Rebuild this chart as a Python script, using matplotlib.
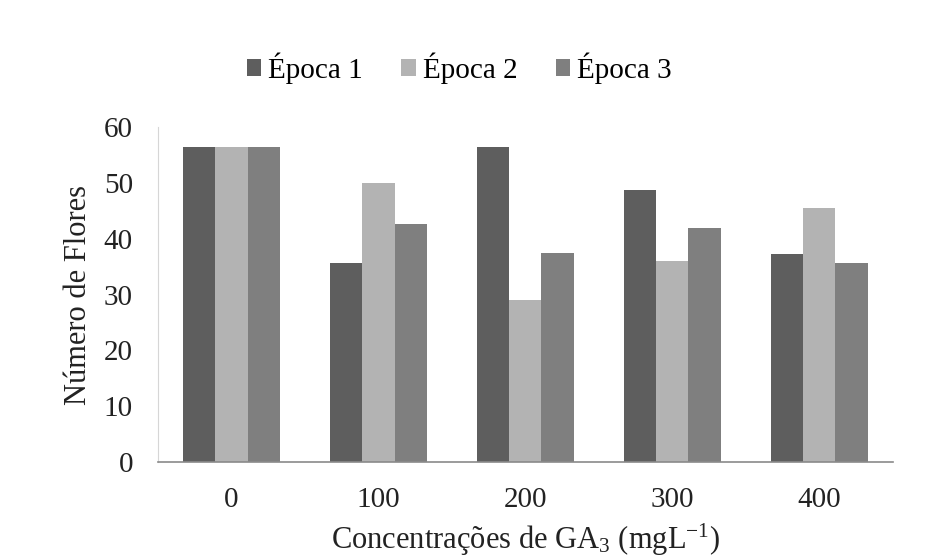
import matplotlib
matplotlib.use("Agg")
import matplotlib.pyplot as plt
import numpy as np

plt.rcParams['font.family'] = ['Liberation Serif', 'DejaVu Serif']
plt.rcParams['mathtext.fontset'] = 'custom'
plt.rcParams['mathtext.rm'] = 'Liberation Serif'
plt.rcParams['mathtext.it'] = 'Liberation Serif:italic'

categories = ["0", "100", "200", "300", "400"]
series_names = ["Época 1", "Época 2", "Época 3"]
epoca1 = [56.5, 35.7, 56.5, 48.7, 37.3]
epoca2 = [56.5, 50.0, 29.0, 36.0, 45.5]
epoca3 = [56.5, 42.7, 37.5, 42.0, 35.7]
yticks = [0, 10, 20, 30, 40, 50, 60]

colors = ["#5e5e5e", "#b3b3b3", "#7f7f7f"]

fig = plt.figure(figsize=(9.26, 5.6), dpi=100)
ax = fig.add_axes([0.1706, 0.175, 0.7934, 0.598])

x = np.arange(len(categories))
w = 0.22
for i, (vals, name, c) in enumerate(zip([epoca1, epoca2, epoca3], series_names, colors)):
    ax.bar(x + (i - 1) * w, vals, width=w, color=c, label=name)

ax.set_xlim(-0.5, len(categories) - 0.5)
ax.set_ylim(0, 60)
ax.set_yticks(yticks)
ax.set_xticks(x)
ax.set_xticklabels(categories)
ax.tick_params(axis='both', length=0, labelsize=21, colors='#222222')
ax.tick_params(axis='y', pad=18)
ax.tick_params(axis='x', pad=18)

for s in ['top', 'right']:
    ax.spines[s].set_visible(False)
ax.spines['left'].set_color('#d6d6d6')
ax.spines['bottom'].set_color('#8a8a8a')
ax.spines['bottom'].set_linewidth(1.2)

ax.set_ylabel("Número de Flores", fontsize=22, color='#222222', labelpad=8)
ax.set_xlabel("Concentrações de GA$_3$ (mgL$^{-1}$)", fontsize=22, color='#222222', labelpad=6)

fig.legend(loc='center', bbox_to_anchor=(0.496, 0.878), ncol=3, frameon=False,
           fontsize=21, handlelength=0.5, handleheight=0.5, handletextpad=0.25,
           columnspacing=1.3)

fig.savefig("out.png", dpi=100, facecolor='white')
